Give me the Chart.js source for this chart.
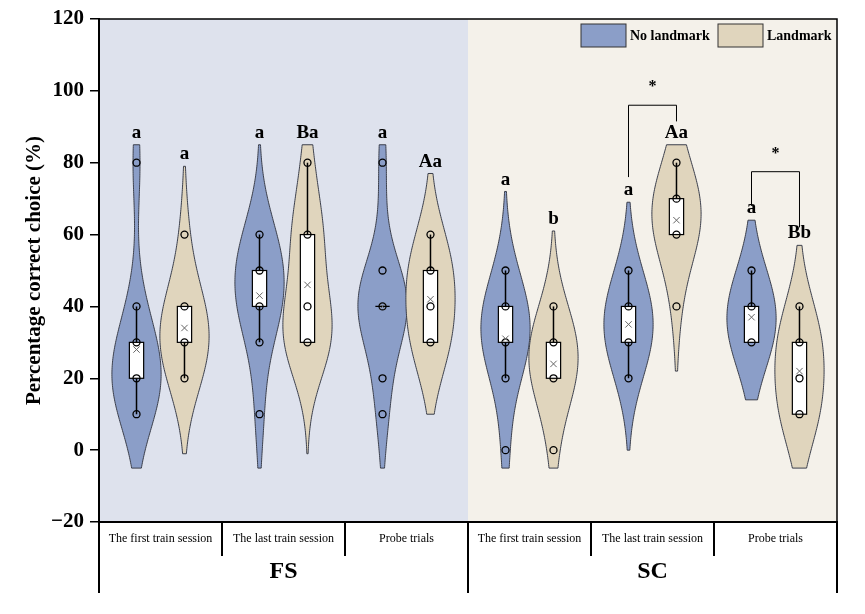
<!DOCTYPE html>
<html>
<head>
<meta charset="utf-8">
<script src="https://cdn.jsdelivr.net/npm/chart.js@4.4.0/dist/chart.umd.min.js"></script>
<style>
  html, body { margin: 0; background: #fff; }
  #wrap { width: 865px; height: 614px; }
</style>
</head>
<body>
<div id="wrap"><canvas id="c"></canvas></div>
<script>
// categories
const sessions = ['The first train session', 'The last train session', 'Probe trials',
                  'The first train session', 'The last train session', 'Probe trials'];
const stages = ['FS', 'SC'];
const seriesNames = ['No landmark', 'Landmark'];

// scores (%) per session, 10 trials each
const noLandmark = [
  [10, 10, 20, 20, 20, 20, 30, 30, 40, 80],
  [10, 30, 40, 40, 40, 50, 50, 50, 60, 60],
  [10, 20, 40, 40, 40, 40, 40, 40, 50, 80],
  [0, 20, 30, 30, 30, 30, 40, 40, 40, 50],
  [20, 30, 30, 30, 30, 40, 40, 40, 40, 50],
  [30, 30, 30, 30, 40, 40, 40, 40, 40, 50]
];
const landmark = [
  [20, 20, 30, 30, 30, 30, 40, 40, 40, 60],
  [30, 30, 30, 30, 40, 40, 60, 60, 60, 80],
  [30, 30, 30, 30, 40, 50, 50, 50, 50, 60],
  [0, 20, 20, 20, 20, 30, 30, 30, 30, 40],
  [40, 60, 60, 60, 60, 70, 70, 70, 70, 80],
  [10, 10, 10, 10, 20, 30, 30, 30, 30, 40]
];
// violin extent (low, high)
const noLandmarkRange = [[-5, 85], [-5, 85], [-5, 85], [-5, 72], [0, 69], [14, 64]];
const landmarkRange = [[-1, 79], [-1, 85], [10, 77], [-5, 61], [22, 85], [-5, 57]];
// letters above violins
const noLandmarkLetters = ['a', 'a', 'a', 'a', 'a', 'a'];
const landmarkLetters = ['a', 'Ba', 'Aa', 'b', 'Aa', 'Bb'];
// significance brackets: session index, bar level, left leg end, right leg end
const brackets = [
  { session: 4, top: 96, left: 76, right: 91.5 },
  { session: 5, top: 77.5, left: 68, right: 62 }
];
const yTicks = [-20, 0, 20, 40, 60, 80, 100, 120];

const OFF = 0.195, HALF = 0.2, BOX = 0.058, BW = 12;
const SERIF = '"Liberation Serif", "Times New Roman", serif';

const series = [
  { sets: noLandmark, range: noLandmarkRange, letters: noLandmarkLetters, off: -OFF, fill: '#8b9ec8' },
  { sets: landmark, range: landmarkRange, letters: landmarkLetters, off: OFF, fill: '#e0d5bd' }
];

function quant(s, p) {
  const pos = (s.length - 1) * p, i = Math.floor(pos), f = pos - i;
  return s[i] + (i + 1 < s.length ? f * (s[i + 1] - s[i]) : 0);
}
function stats(vals) {
  const s = [...vals].sort((a, b) => a - b);
  const q1 = quant(s, 0.25), q3 = quant(s, 0.75), iqr = q3 - q1;
  const lo = s.find(v => v >= q1 - 1.5 * iqr);
  const hi = [...s].reverse().find(v => v <= q3 + 1.5 * iqr);
  const mean = s.reduce((a, b) => a + b, 0) / s.length;
  return { q1, q3, lo, hi, mean };
}
function kde(vals, t) {
  let d = 0;
  for (const v of vals) { const z = (t - v) / BW; d += Math.exp(-0.5 * z * z); }
  return d;
}

const pointData = s => s.sets.flatMap((vals, g) => [...new Set(vals)].map(v => ({ x: g + 0.5 + s.off, y: v })));
const meanData = s => s.sets.map((vals, g) => ({ x: g + 0.5 + s.off, y: stats(vals).mean }));

const violinPlugin = {
  id: 'violins',
  beforeDraw(chart) {
    const { ctx, chartArea: a } = chart;
    const mid = chart.scales.x.getPixelForValue(3);
    ctx.save();
    ctx.fillStyle = '#fff';
    ctx.fillRect(0, 0, chart.width, chart.height);
    ctx.fillStyle = '#dee2ed';
    ctx.fillRect(a.left, a.top, mid - a.left, a.bottom - a.top);
    ctx.fillStyle = '#f4f1ea';
    ctx.fillRect(mid, a.top, a.right - mid, a.bottom - a.top);
    ctx.restore();
  },
  beforeDatasetsDraw(chart) {
    const { ctx } = chart;
    const xs = chart.scales.x, ys = chart.scales.y;
    ctx.save();
    series.forEach(s => s.sets.forEach((vals, g) => {
      const [lo, hi] = s.range[g];
      const ts = [];
      for (let t = lo; t < hi; t += 0.5) ts.push(t);
      ts.push(hi);
      const dens = ts.map(t => kde(vals, t));
      const mx = Math.max(...dens);
      const cx = g + 0.5 + s.off;
      ctx.beginPath();
      ts.forEach((t, i) => {
        const px = xs.getPixelForValue(cx + HALF * dens[i] / mx), py = ys.getPixelForValue(t);
        i ? ctx.lineTo(px, py) : ctx.moveTo(px, py);
      });
      for (let i = ts.length - 1; i >= 0; i--) {
        ctx.lineTo(xs.getPixelForValue(cx - HALF * dens[i] / mx), ys.getPixelForValue(ts[i]));
      }
      ctx.closePath();
      ctx.fillStyle = s.fill;
      ctx.fill();
      ctx.strokeStyle = '#3b3f4c';
      ctx.lineWidth = 1;
      ctx.stroke();

      // whiskers and box
      const st = stats(vals);
      const px = xs.getPixelForValue(cx);
      ctx.strokeStyle = '#000';
      ctx.lineWidth = 1.5;
      ctx.beginPath();
      ctx.moveTo(px, ys.getPixelForValue(st.lo)); ctx.lineTo(px, ys.getPixelForValue(st.q1));
      ctx.moveTo(px, ys.getPixelForValue(st.q3)); ctx.lineTo(px, ys.getPixelForValue(st.hi));
      ctx.stroke();
      const bl = xs.getPixelForValue(cx - BOX), br = xs.getPixelForValue(cx + BOX);
      const bt = ys.getPixelForValue(st.q3), bb = ys.getPixelForValue(st.q1);
      ctx.fillStyle = '#fff';
      ctx.fillRect(bl, bt, br - bl, bb - bt);
      ctx.lineWidth = 1.2;
      ctx.strokeRect(bl, bt, br - bl, bb - bt);
    }));
    ctx.restore();
  },
  afterDraw(chart) {
    const { ctx, chartArea: a } = chart;
    const xs = chart.scales.x, ys = chart.scales.y;
    ctx.save();
    // frame
    ctx.strokeStyle = '#000';
    ctx.lineWidth = 1.5;
    ctx.beginPath();
    ctx.moveTo(a.left, a.top); ctx.lineTo(a.right, a.top); ctx.lineTo(a.right, a.bottom);
    ctx.stroke();
    ctx.lineWidth = 2;
    ctx.beginPath();
    ctx.moveTo(a.left - 1, a.bottom); ctx.lineTo(a.right + 1, a.bottom);
    ctx.stroke();

    // letters
    ctx.fillStyle = '#000';
    ctx.textAlign = 'center';
    ctx.textBaseline = 'middle';
    ctx.font = 'bold 19px ' + SERIF;
    series.forEach(s => s.letters.forEach((txt, g) => {
      ctx.fillText(txt, xs.getPixelForValue(g + 0.5 + s.off), ys.getPixelForValue(s.range[g][1] + 3.3));
    }));

    // brackets
    ctx.lineWidth = 1;
    ctx.font = 'bold 16px ' + SERIF;
    brackets.forEach(b => {
      const l = xs.getPixelForValue(b.session + 0.5 - OFF), r = xs.getPixelForValue(b.session + 0.5 + OFF);
      ctx.beginPath();
      ctx.moveTo(l, ys.getPixelForValue(b.left));
      ctx.lineTo(l, ys.getPixelForValue(b.top));
      ctx.lineTo(r, ys.getPixelForValue(b.top));
      ctx.lineTo(r, ys.getPixelForValue(b.right));
      ctx.stroke();
      ctx.fillText('*', (l + r) / 2, ys.getPixelForValue(b.top + 5));
    });

    // legend
    const items = [{ x: a.right - 256, c: series[0].fill }, { x: a.right - 119, c: series[1].fill }];
    ctx.font = 'bold 14px ' + SERIF;
    ctx.textAlign = 'left';
    items.forEach((it, i) => {
      ctx.fillStyle = it.c;
      ctx.fillRect(it.x, a.top + 5, 45, 23);
      ctx.strokeStyle = '#333';
      ctx.lineWidth = 1;
      ctx.strokeRect(it.x, a.top + 5, 45, 23);
      ctx.fillStyle = '#000';
      ctx.fillText(seriesNames[i], it.x + 49, a.top + 17);
    });

    // category table
    const yb = a.bottom;
    ctx.strokeStyle = '#000';
    ctx.lineWidth = 2;
    ctx.beginPath();
    for (let g = 0; g <= 6; g++) {
      const x = xs.getPixelForValue(g);
      const long = g % 3 === 0;
      ctx.moveTo(x, yb); ctx.lineTo(x, yb + (long ? 71 : 34));
    }
    ctx.stroke();
    ctx.textAlign = 'center';
    ctx.font = '12px ' + SERIF;
    sessions.forEach((txt, g) => ctx.fillText(txt, xs.getPixelForValue(g + 0.5), yb + 17));
    ctx.font = 'bold 24px ' + SERIF;
    stages.forEach((txt, i) => ctx.fillText(txt, xs.getPixelForValue(i * 3 + 1.5), yb + 50));
    ctx.restore();
  }
};

new Chart(document.getElementById('c'), {
  type: 'scatter',
  data: {
    datasets: [
      { label: 'means', data: meanData(series[0]), pointStyle: 'crossRot', radius: 4.5, borderColor: '#666', borderWidth: 1, backgroundColor: 'transparent' },
      { label: 'means', data: meanData(series[1]), pointStyle: 'crossRot', radius: 4.5, borderColor: '#666', borderWidth: 1, backgroundColor: 'transparent' },
      { label: seriesNames[0], data: pointData(series[0]), pointStyle: 'circle', radius: 3.5, borderColor: '#000', borderWidth: 1.3, backgroundColor: 'rgba(0,0,0,0)' },
      { label: seriesNames[1], data: pointData(series[1]), pointStyle: 'circle', radius: 3.5, borderColor: '#000', borderWidth: 1.3, backgroundColor: 'rgba(0,0,0,0)' }
    ]
  },
  options: {
    responsive: true,
    maintainAspectRatio: false,
    animation: false,
    layout: { padding: { left: 0, right: 28, top: 19, bottom: 92 } },
    plugins: { legend: { display: false }, tooltip: { enabled: false } },
    scales: {
      x: { type: 'linear', min: 0, max: 6, display: false },
      y: {
        min: -20, max: 120,
        afterBuildTicks: s => { s.ticks = yTicks.map(v => ({ value: v })); },
        afterFit: s => { s.width = 99; },
        ticks: {
          color: '#000', padding: 6,
          font: { family: SERIF, size: 21, weight: 'bold' },
          callback: v => v < 0 ? '\u2212' + Math.abs(v) : String(v)
        },
        grid: { drawOnChartArea: false, tickLength: 9, color: '#000', lineWidth: 1.5 },
        border: { color: '#000', width: 2 },
        title: {
          display: true, text: 'Percentage correct choice (%)', color: '#000',
          font: { family: SERIF, size: 21, weight: 'bold' },
          padding: { top: 22, bottom: 0 }
        }
      }
    }
  },
  plugins: [violinPlugin]
});
</script>
</body>
</html>
